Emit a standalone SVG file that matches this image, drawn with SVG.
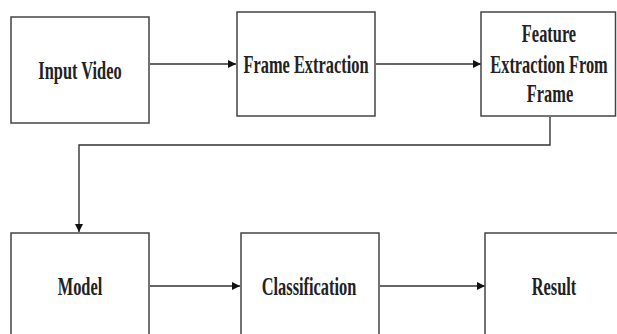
<svg xmlns="http://www.w3.org/2000/svg" width="617" height="334" viewBox="0 0 617 334">
<style>
.box{fill:#fff;stroke:#444;stroke-width:1.5}
.ln{fill:none;stroke:#333;stroke-width:1.4}
.t{font-family:"Liberation Serif","Times New Roman",serif;font-weight:bold;font-size:26px;fill:#222;text-anchor:middle}
</style>
<defs>
<marker id="ah" viewBox="0 0 10 10" refX="10" refY="5" markerWidth="8" markerHeight="8" markerUnits="userSpaceOnUse" orient="auto">
<path d="M0,0 L10,5 L0,10 Z" fill="#111"/>
</marker>
</defs>
<rect width="617" height="334" fill="#fff"/>
<g id="connectors">
<path class="ln" d="M150,64 H236" marker-end="url(#ah)"/>
<path class="ln" d="M376,64 H481" marker-end="url(#ah)"/>
<path class="ln" d="M550,117 V145 H79 V232" marker-end="url(#ah)"/>
<path class="ln" d="M150,286 H240" marker-end="url(#ah)"/>
<path class="ln" d="M380,286 H485" marker-end="url(#ah)"/>
</g>
<g id="input-video">
<rect class="box" x="11" y="17" width="138" height="106"/>
<text class="t" transform="translate(80,79) scale(0.63,1)">Input Video</text>
</g>
<g id="frame-extraction">
<rect class="box" x="237" y="12" width="138" height="104"/>
<text class="t" transform="translate(306,73) scale(0.63,1)">Frame Extraction</text>
</g>
<g id="feature-extraction">
<rect class="box" x="481" y="12" width="134.5" height="104"/>
<text class="t" transform="translate(549,42) scale(0.63,1)">Feature</text>
<text class="t" transform="translate(549,73) scale(0.63,1)">Extraction From</text>
<text class="t" transform="translate(550,102) scale(0.63,1)">Frame</text>
</g>
<g id="model">
<rect class="box" x="11" y="233" width="138" height="110"/>
<text class="t" transform="translate(80,295) scale(0.63,1)">Model</text>
</g>
<g id="classification">
<rect class="box" x="241" y="233" width="138" height="110"/>
<text class="t" transform="translate(309,295) scale(0.63,1)">Classification</text>
</g>
<g id="result">
<rect class="box" x="485" y="233" width="140" height="110"/>
<text class="t" transform="translate(554,295) scale(0.63,1)">Result</text>
</g>
</svg>
